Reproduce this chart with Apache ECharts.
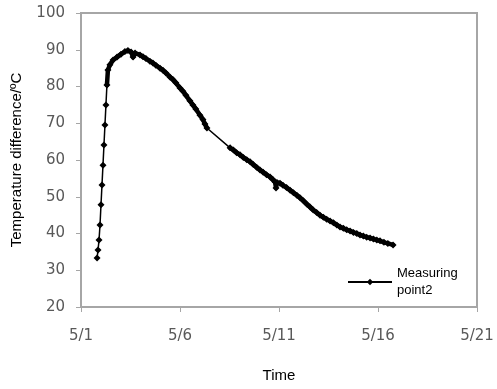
<!DOCTYPE html>
<html><head><meta charset="utf-8">
<script src="https://cdn.jsdelivr.net/npm/echarts@6/dist/echarts.min.js"></script>
<style>html,body{margin:0;padding:0;background:#fff}#c{width:497px;height:389px}</style>
</head><body><div id="c"></div>
<script>
const seriesName = 'Measuring\npoint2';
const xTickLabels = ['5/1', '5/6', '5/11', '5/16', '5/21'];
const yTicks = [20, 30, 40, 50, 60, 70, 80, 90, 100];
// day of May (fractional)
const days = [1.81,1.86,1.91,1.96,2.01,2.06,2.11,2.16,2.21,2.26,2.31,2.36,2.46,2.62,2.82,3.02,3.22,3.37,3.53,3.63,3.73,3.98,
  4.13,4.28,4.48,4.63,4.78,4.99,5.14,5.29,5.49,5.64,5.79,6.0,6.15,6.3,6.5,6.65,6.8,7.01,7.16,7.26,7.36,
  8.53,8.7,8.86,9.03,9.2,9.37,9.54,9.7,9.87,10.04,10.2,10.37,10.55,10.7,10.8,10.85,10.9,11.05,11.2,11.38,11.56,11.73,11.9,
  12.06,12.23,12.4,12.57,12.73,12.9,13.07,13.24,13.41,13.58,13.75,13.92,14.08,14.25,14.42,14.59,14.76,14.93,15.09,15.26,
  15.43,15.6,15.77,15.94,16.1,16.3,16.5,16.76];
const temps = [33.3,35.5,38.2,42.3,47.8,53.2,58.6,64.1,69.5,75.0,80.4,84.5,85.9,87.2,88.0,88.8,89.5,89.8,89.4,88.0,89.1,88.6,
  88.1,87.6,86.9,86.4,85.8,85.0,84.4,83.7,82.6,81.9,81.0,79.6,78.7,77.6,76.1,75.0,73.9,72.2,71.0,69.8,68.7,
  63.3,62.7,62.0,61.4,60.7,60.1,59.5,58.8,58.0,57.3,56.7,56.0,55.4,54.6,54.0,52.4,53.9,53.7,53.1,52.5,51.8,51.1,50.4,
  49.7,48.9,48.0,47.2,46.4,45.7,45.0,44.4,43.9,43.4,42.9,42.3,41.8,41.4,41.0,40.7,40.3,40.0,39.6,39.3,
  39.0,38.8,38.5,38.2,38.0,37.6,37.3,36.9];
// sampling is sparse during the fast rise and during a logger gap (thin line there)
const denseFromDay = 2.31;
const gapAfterDay = 7.36;

const pts = days.map((d, i) => [d, temps[i]]);
const densePts = [];
pts.forEach(p => {
  if (p[0] < denseFromDay) return;
  densePts.push(p);
  if (p[0] === gapAfterDay) densePts.push([p[0] + 0.01, null]);
});

const chart = echarts.init(document.getElementById('c'), null, {renderer: 'canvas'});
const axisGrey = '#a6a6a6';
const labelStyle = {color: '#595959', fontSize: 15, fontFamily: 'DejaVu Sans'};
chart.setOption({
  animation: false,
  grid: {left: 81, right: 20, top: 13, bottom: 82, show: true, borderColor: axisGrey, borderWidth: 2, backgroundColor: 'transparent'},
  legend: {
    data: [seriesName], left: 342, top: 260, itemWidth: 44, itemHeight: 8, itemGap: 4,
    textStyle: {color: '#000', fontSize: 13, fontFamily: 'Liberation Sans', lineHeight: 17}
  },
  xAxis: {
    type: 'value', min: 1, max: 21, interval: 5,
    name: 'Time', nameLocation: 'middle', nameGap: 61,
    nameTextStyle: {color: '#000', fontSize: 15, fontFamily: 'Liberation Sans'},
    axisLine: {lineStyle: {color: axisGrey, width: 2}},
    axisTick: {show: true, length: 5, lineStyle: {color: axisGrey}},
    axisLabel: Object.assign({margin: 22, formatter: v => xTickLabels[Math.round((v - 1) / 5)]}, labelStyle),
    splitLine: {show: false}
  },
  yAxis: {
    type: 'value', min: yTicks[0], max: yTicks[yTicks.length - 1], interval: 10,
    name: 'Temperature difference/ºC', nameLocation: 'middle', nameGap: 57, nameRotate: 90,
    nameTextStyle: {color: '#000', fontSize: 15, fontFamily: 'Liberation Sans'},
    axisLine: {show: true, lineStyle: {color: axisGrey, width: 2}},
    axisTick: {show: true, length: 5, lineStyle: {color: axisGrey}},
    axisLabel: Object.assign({margin: 16}, labelStyle),
    splitLine: {show: false}
  },
  series: [{
    name: seriesName, type: 'line',
    data: pts,
    symbol: 'diamond', symbolSize: 7, showAllSymbol: true,
    itemStyle: {color: '#000'},
    lineStyle: {color: '#000', width: 1.5},
    z: 3
  }, {
    name: 'dense', type: 'line',
    data: densePts, connectNulls: false,
    symbol: 'none',
    lineStyle: {color: '#000', width: 4.5, join: 'round', cap: 'round'},
    z: 2
  }]
});
</script></body></html>
